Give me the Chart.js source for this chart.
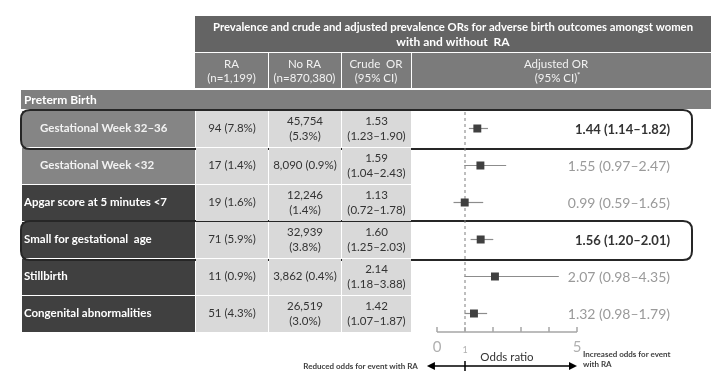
<!DOCTYPE html>
<html>
<head>
<meta charset="utf-8">
<script src="https://cdn.jsdelivr.net/npm/chart.js@4"></script>
<style>
  html, body { margin: 0; padding: 0; background: #fff; }
  canvas { display: block; }
</style>
</head>
<body>
<canvas id="forestChart" width="723" height="376"></canvas>
<script>
var outcomes = ['Gestational Week 32–36', 'Gestational Week <32', 'Apgar score at 5 minutes <7',
    'Small for gestational  age', 'Stillbirth', 'Congenital abnormalities'];
var subRow = [true, true, false, false, false, false];   // indented under "Preterm Birth"
var highlighted = [true, false, false, true, false, false];
var raCells = ['94 (7.8%)', '17 (1.4%)', '19 (1.6%)', '71 (5.9%)', '11 (0.9%)', '51 (4.3%)'];
var noRaCells = [['45,754', '(5.3%)'], ['8,090 (0.9%)'], ['12,246', '(1.4%)'],
    ['32,939', '(3.8%)'], ['3,862 (0.4%)'], ['26,519', '(3.0%)']];
var crudeOR = [1.53, 1.59, 1.13, 1.60, 2.14, 1.42];
var crudeLow = [1.23, 1.04, 0.72, 1.25, 1.18, 1.07];
var crudeHigh = [1.90, 2.43, 1.78, 2.03, 3.88, 1.87];
var adjOR = [1.44, 1.55, 0.99, 1.56, 2.07, 1.32];
var adjLow = [1.14, 0.97, 0.59, 1.20, 0.98, 0.98];
var adjHigh = [1.82, 2.47, 1.65, 2.01, 4.35, 1.79];
var xTicks = [0, 1, 2, 3, 4, 5];
var xTickLabels = { 0: '0', 1: '1', 5: '5' };

var FONT = 'Lato, "Open Sans", sans-serif';

function fmtCI(lo, hi) {
    return '(' + lo.toFixed(2) + '–' + hi.toFixed(2) + ')';
}

document.addEventListener('DOMContentLoaded', function () {
    // table geometry (pixels)
    var colEdges = [22, 195, 268, 341, 411, 711];
    var valueRight = 670;
    var boxLeft = 21, boxRight = 692;

    function text(ctx, str, x, y, font, color, align, maxW) {
        ctx.font = font;
        ctx.fillStyle = color;
        ctx.textAlign = align || 'center';
        ctx.textBaseline = 'middle';
        if (maxW) ctx.fillText(str, x, y, maxW); else ctx.fillText(str, x, y);
    }

    function roundRect(ctx, x, y, w, h, r) {
        ctx.beginPath();
        ctx.moveTo(x + r, y);
        ctx.lineTo(x + w - r, y);
        ctx.quadraticCurveTo(x + w, y, x + w, y + r);
        ctx.lineTo(x + w, y + h - r);
        ctx.quadraticCurveTo(x + w, y + h, x + w - r, y + h);
        ctx.lineTo(x + r, y + h);
        ctx.quadraticCurveTo(x, y + h, x, y + h - r);
        ctx.lineTo(x, y + r);
        ctx.quadraticCurveTo(x, y, x + r, y);
        ctx.closePath();
    }

    var tablePlugin = {
        id: 'forestTable',
        beforeDraw: function (chart) {
            var ctx = chart.ctx;
            var area = chart.chartArea;
            var xs = chart.scales.x, ys = chart.scales.y;
            var step = ys.getPixelForValue(1) - ys.getPixelForValue(0);
            ctx.save();
            ctx.fillStyle = '#ffffff';
            ctx.fillRect(0, 0, chart.width, chart.height);

            // title block
            var top = area.top;
            ctx.fillStyle = '#646464';
            ctx.fillRect(colEdges[1], top - 94, colEdges[5] - colEdges[1], 36);
            text(ctx, 'Prevalence and crude and adjusted prevalence ORs for adverse birth outcomes amongst women',
                453, top - 83, 'bold 12px ' + FONT, '#ffffff', 'center', 480);
            text(ctx, 'with and without  RA', 453, top - 68, 'bold 12px ' + FONT, '#ffffff');

            // column header row
            var heads = [['RA', '(n=1,199)'], ['No RA', '(n=870,380)'], ['Crude  OR', '(95% CI)'], ['Adjusted OR', '(95% CI)']];
            for (var c = 0; c < 4; c++) {
                ctx.fillStyle = '#7b7b7b';
                ctx.fillRect(colEdges[c + 1] + (c ? 1 : 0), top - 57, colEdges[c + 2] - colEdges[c + 1] - (c ? 1 : 0), 35);
                var cx = c < 3 ? (colEdges[c + 1] + colEdges[c + 2]) / 2 : 556;
                text(ctx, heads[c][0], cx, top - 46, '11.5px ' + FONT, '#f2f2f2');
                text(ctx, heads[c][1], cx, top - 32, '11.5px ' + FONT, '#f2f2f2');
            }
            ctx.font = '8px ' + FONT;
            ctx.textAlign = 'left';
            ctx.fillText('*', 556 + 21, top - 35);

            // Preterm Birth row
            ctx.fillStyle = '#7f7f7f';
            ctx.fillRect(boxLeft, top - 20, colEdges[5] - boxLeft, 19);
            text(ctx, 'Preterm Birth', 24, top - 10, 'bold 12px ' + FONT, '#ffffff', 'left');

            // label column
            outcomes.forEach(function (label, i) {
                var cy = ys.getPixelForValue(i);
                var y0 = cy - step / 2;
                ctx.fillStyle = subRow[i] ? '#858585' : '#404040';
                ctx.fillRect(colEdges[0], y0 + 1, colEdges[1] - colEdges[0], step - 1);
                text(ctx, label, subRow[i] ? 40 : 24, cy, 'bold 11.5px ' + FONT,
                    subRow[i] ? '#f2f2f2' : '#ffffff', 'left');
            });

            // highlight boxes
            outcomes.forEach(function (label, i) {
                if (!highlighted[i]) return;
                var cy = ys.getPixelForValue(i);
                ctx.lineWidth = 2;
                ctx.strokeStyle = '#262626';
                roundRect(ctx, boxLeft, cy - step / 2, boxRight - boxLeft, step + 2, 9);
                ctx.stroke();
            });

            // data cells
            outcomes.forEach(function (label, i) {
                var cy = ys.getPixelForValue(i);
                var y0 = cy - step / 2;
                var cells = [[raCells[i]], noRaCells[i], [crudeOR[i].toFixed(2), fmtCI(crudeLow[i], crudeHigh[i])]];
                for (var c = 0; c < 3; c++) {
                    var x0 = colEdges[c + 1] + 1;
                    var w = colEdges[c + 2] - colEdges[c + 1] - 1;
                    ctx.fillStyle = '#d9d9d9';
                    ctx.fillRect(x0, y0 + 1, w, step - 1);
                    var lines = cells[c];
                    lines.forEach(function (ln, k) {
                        var ly = cy + (k - (lines.length - 1) / 2) * 15;
                        text(ctx, ln, x0 + w / 2, ly, '11.5px ' + FONT, '#333333');
                    });
                }
            });

            // reference line at OR = 1
            var x1 = xs.getPixelForValue(1);
            ctx.setLineDash([3, 3]);
            ctx.lineWidth = 1;
            ctx.strokeStyle = '#7f7f7f';
            ctx.beginPath();
            ctx.moveTo(x1, area.top + 2);
            ctx.lineTo(x1, area.bottom);
            ctx.stroke();
            ctx.setLineDash([]);

            // axis line with ticks pointing up
            ctx.strokeStyle = '#a6a6a6';
            ctx.lineWidth = 1.5;
            ctx.beginPath();
            ctx.moveTo(xs.getPixelForValue(0), area.bottom);
            ctx.lineTo(xs.getPixelForValue(5), area.bottom);
            xTicks.forEach(function (t) {
                var px = xs.getPixelForValue(t);
                ctx.moveTo(px, area.bottom);
                ctx.lineTo(px, area.bottom - 5);
            });
            ctx.stroke();

            // confidence intervals
            ctx.strokeStyle = '#8c8c8c';
            ctx.lineWidth = 1.2;
            adjOR.forEach(function (v, i) {
                var cy = ys.getPixelForValue(i);
                ctx.beginPath();
                ctx.moveTo(xs.getPixelForValue(adjLow[i]), cy);
                ctx.lineTo(xs.getPixelForValue(adjHigh[i]), cy);
                ctx.stroke();
            });
            ctx.restore();
        },
        afterDraw: function (chart) {
            var ctx = chart.ctx;
            var area = chart.chartArea;
            var xs = chart.scales.x, ys = chart.scales.y;
            ctx.save();
            // adjusted OR values
            adjOR.forEach(function (v, i) {
                var cy = ys.getPixelForValue(i);
                var str = v.toFixed(2) + ' ' + fmtCI(adjLow[i], adjHigh[i]);
                if (highlighted[i]) {
                    text(ctx, str, valueRight, cy + 1, 'bold 13px ' + FONT, '#333333', 'right');
                } else {
                    text(ctx, str, valueRight, cy + 1, '14px ' + FONT, '#9a9a9a', 'right');
                }
            });

            // direction arrow under the axis
            var ay = area.bottom + 34;
            var xl = xs.getPixelForValue(-0.36), xr = xs.getPixelForValue(5);
            var x1 = xs.getPixelForValue(1);
            ctx.strokeStyle = '#000000';
            ctx.fillStyle = '#000000';
            ctx.lineWidth = 1.5;
            ctx.beginPath();
            ctx.moveTo(xl + 6, ay);
            ctx.lineTo(xr - 6, ay);
            ctx.moveTo(x1, ay - 5);
            ctx.lineTo(x1, ay + 5);
            ctx.stroke();
            ctx.beginPath();
            ctx.moveTo(xl, ay); ctx.lineTo(xl + 8, ay - 4); ctx.lineTo(xl + 8, ay + 4); ctx.closePath();
            ctx.moveTo(xr, ay); ctx.lineTo(xr - 8, ay - 4); ctx.lineTo(xr - 8, ay + 4); ctx.closePath();
            ctx.fill();

            text(ctx, 'Reduced odds for event with RA', xl - 9, ay, 'bold 8px ' + FONT, '#404040', 'right');
            text(ctx, 'Increased odds for event', xr + 6, ay - 12, 'bold 8px ' + FONT, '#404040', 'left');
            text(ctx, 'with RA', xr + 6, ay - 2, 'bold 8px ' + FONT, '#404040', 'left');
            ctx.restore();
        }
    };

    var ctx = document.getElementById('forestChart').getContext('2d');
    if (ctx) {
        var forestChart = new Chart(ctx, {
            type: 'scatter',
            data: {
                datasets: [{
                    label: 'Adjusted OR',
                    data: adjOR.map(function (v, i) { return { x: v, y: outcomes[i] }; }),
                    pointStyle: 'rect',
                    pointRadius: 5.6,
                    backgroundColor: '#404040',
                    borderColor: '#404040',
                    borderWidth: 0
                }]
            },
            options: {
                responsive: false,
                animation: false,
                devicePixelRatio: 1,
                layout: { padding: { left: 437, right: 146, top: 110, bottom: 0 } },
                scales: {
                    x: {
                        type: 'linear',
                        min: 0,
                        max: 5,
                        afterBuildTicks: function (scale) {
                            scale.ticks = xTicks.map(function (v) { return { value: v }; });
                        },
                        afterFit: function (scale) { scale.height = 44; },
                        grid: { display: false, drawTicks: false },
                        border: { display: false },
                        ticks: {
                            autoSkip: false,
                            maxRotation: 0,
                            padding: 6,
                            color: '#b0b0b0',
                            font: function (c) {
                                // the small "1" sits lower than 0 and 5
                                return (c.tick && c.tick.value === 1)
                                    ? { family: FONT, size: 9, lineHeight: 2.6 }
                                    : { family: FONT, size: 15 };
                            },
                            callback: function (v) { return xTickLabels[v] || ''; }
                        },
                        title: {
                            display: true,
                            text: 'Odds ratio',
                            color: '#333333',
                            font: { family: FONT, size: 11.5 },
                            padding: { top: 0, bottom: 12 }
                        }
                    },
                    y: {
                        type: 'category',
                        labels: outcomes,
                        offset: true,
                        display: false
                    }
                },
                plugins: {
                    legend: { display: false },
                    tooltip: { enabled: false }
                }
            },
            plugins: [tablePlugin]
        });
    } else {
        console.error("Canvas element with ID 'forestChart' not found.");
    }
});
</script>
</body>
</html>
